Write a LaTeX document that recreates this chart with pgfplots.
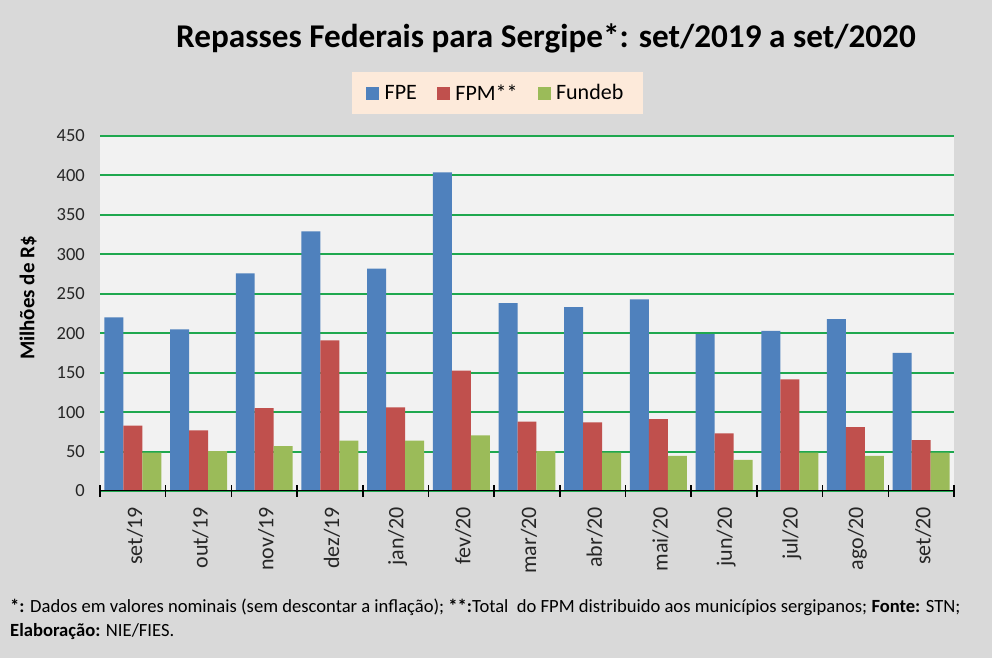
\documentclass[border=0pt]{standalone}
\usepackage{fontspec}
\setmainfont{Carlito}
\usepackage{graphicx}
\usepackage{pgfplots}
\usepackage{pgfplotstable}
\pgfplotsset{compat=1.18}
\definecolor{bg}{HTML}{D9D9D9}
\definecolor{plotbg}{HTML}{F2F2F2}
\definecolor{legbg}{HTML}{FDEADA}
\definecolor{gridg}{HTML}{1FA84F}
\definecolor{fpe}{HTML}{4F81BD}
\definecolor{fpm}{HTML}{C0504D}
\definecolor{fundeb}{HTML}{9BBB59}

\pgfplotstableread{
x FPE FPM Fundeb
0 220 83 48.6
1 205 77 50.7
2 276 105 57
3 329 191 64
4 282 106 64
5 404 152.5 70.5
6 238 88 50.7
7 233 87 48.6
8 243 91 44.4
9 199 73 39.3
10 203 141.5 48.6
11 218 81 44.4
12 175 64.6 48.6
}\data

\newcommand{\rl}[1]{\rotatebox{90}{#1}}

\begin{document}
\begin{tikzpicture}
\fill[bg] (0,0) rectangle (992bp,658bp);
\node[anchor=base, font=\bfseries\fontsize{33.2bp}{38bp}\selectfont, inner sep=0pt] at (546bp,610bp) {Repasses Federais para Sergipe*: set/2019 a set/2020};
\begin{axis}[
  at={(100bp,167bp)}, anchor=south west,
  scale only axis, width=854bp, height=355bp,
  xmin=-0.5, xmax=12.5, ymin=0, ymax=450,
  ytick={0,50,...,450},
  xtick={0,...,12},
  xticklabels={\rl{set/19},\rl{out/19},\rl{nov/19},\rl{dez/19},\rl{jan/20},\rl{fev/20},\rl{mar/20},\rl{abr/20},\rl{mai/20},\rl{jun/20},\rl{jul/20},\rl{ago/20},\rl{set/20}},
  minor xtick={-0.5,0.5,...,12.5},
  axis background/.style={fill=plotbg},
  axis line style={draw=none},
  ymajorgrids, grid style={gridg, line width=2bp},
  major tick length=0pt,
  minor tick length=12bp,
  xtick align=center,
  xtick pos=bottom, ytick pos=left,
  minor x tick style={black, line width=1.6bp},
  /pgf/number format/assume math mode=true,
  yticklabel style={anchor=east, inner sep=0pt, xshift=-15bp, font=\fontsize{18.5bp}{20bp}\selectfont, text=black!85},
  xticklabel style={anchor=north, inner sep=0pt, yshift=-16bp, xshift=2bp, font=\fontsize{22bp}{24bp}\selectfont, text=black!85},
  every axis y label/.style={at={(axis description cs:-0.0843,0.5437)}, rotate=90, anchor=center, font=\bfseries\fontsize{21bp}{24bp}\selectfont},
  ylabel={Milhões de R\$},
  legend columns=3,
  legend style={at={(0.4655,1.121)}, anchor=center, fill=legbg, draw=none,
    font=\fontsize{22bp}{26bp}\selectfont, inner xsep=14bp, inner ysep=9bp,
    /tikz/every even column/.append style={column sep=14.5bp},
    nodes={inner xsep=5.5bp, inner ysep=3bp}},
  legend image code/.code={\fill[#1,draw=none] (0bp,-6.5bp) rectangle (13bp,6.5bp);},
]
\addplot[ybar, bar width=0.289, bar shift=-0.289, fill=fpe, draw=none] table[x=x,y=FPE]{\data};
\addlegendentry{FPE}
\addplot[ybar, bar width=0.289, bar shift=0, fill=fpm, draw=none] table[x=x,y=FPM]{\data};
\addlegendentry{FPM**}
\addplot[ybar, bar width=0.289, bar shift=0.289, fill=fundeb, draw=none] table[x=x,y=Fundeb]{\data};
\addlegendentry{Fundeb}
\draw[black, line width=2bp] (axis cs:-0.5,0) -- (axis cs:12.5,0);
\end{axis}
\node[anchor=base west, font=\fontsize{18.6bp}{22bp}\selectfont, inner sep=0pt] at (10bp,45bp) {\textbf{*:} Dados em valores nominais (sem descontar a inflação); \textbf{**:}Total\ \ do FPM distribuido aos municípios sergipanos; \textbf{Fonte:} STN;};
\node[anchor=base west, font=\fontsize{18.6bp}{22bp}\selectfont, inner sep=0pt] at (10bp,22bp) {\textbf{Elaboração:} NIE/FIES.};
\end{tikzpicture}
\end{document}
